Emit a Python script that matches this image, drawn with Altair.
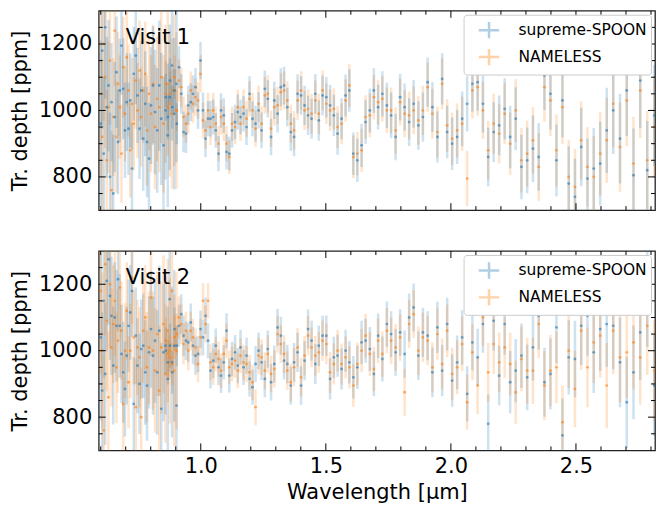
import altair as alt
import pandas as pd

# ---------------- data ----------------
WL_O2 = [0.600, 0.606, 0.612, 0.618, 0.624, 0.631, 0.637, 0.643, 0.650, 0.656,
         0.663, 0.669, 0.676, 0.683, 0.690, 0.697, 0.704, 0.711, 0.718, 0.725,
         0.732, 0.740, 0.747, 0.755, 0.762, 0.770, 0.778, 0.785, 0.793, 0.801,
         0.809, 0.817, 0.826, 0.834, 0.842, 0.851, 0.859, 0.868, 0.876, 0.885,
         0.894, 0.903]

WL_O1 = [0.860, 0.869, 0.877, 0.886, 0.895, 0.904, 0.913, 0.922, 0.931, 0.941,
         0.950, 0.960, 0.969, 0.979, 0.989, 0.999, 1.009, 1.019, 1.029, 1.039,
         1.050, 1.060, 1.071, 1.081, 1.092, 1.103, 1.114, 1.125, 1.137, 1.148,
         1.159, 1.171, 1.183, 1.195, 1.207, 1.219, 1.231, 1.243, 1.256, 1.268,
         1.281, 1.294, 1.307, 1.320, 1.333, 1.346, 1.360, 1.373, 1.387, 1.401,
         1.415, 1.429, 1.443, 1.458, 1.472, 1.487, 1.502, 1.517, 1.532, 1.547,
         1.563, 1.579, 1.594, 1.610, 1.626, 1.643, 1.659, 1.676, 1.692, 1.709,
         1.726, 1.744, 1.761, 1.779, 1.797, 1.815, 1.833, 1.851, 1.870, 1.888,
         1.907, 1.926, 1.946, 1.965, 1.985, 2.005, 2.025, 2.045, 2.065, 2.086,
         2.107, 2.128, 2.149, 2.171, 2.193, 2.215, 2.237, 2.259, 2.282, 2.305,
         2.328, 2.351, 2.374, 2.398, 2.422, 2.446, 2.471, 2.496, 2.521, 2.546,
         2.571, 2.597, 2.623, 2.649, 2.676, 2.703, 2.730, 2.757, 2.785, 2.813]

ERR_O2 = [250, 235, 232, 214, 212, 198, 193, 178, 177, 166,
          168, 157, 156, 148, 152, 143, 147, 139, 142, 138,
          141, 146, 143, 151, 149, 157, 158, 166, 169, 176,
          178, 187, 188, 196, 199, 207, 208, 216, 219, 226,
          228, 236]

ERR_O1 = [70, 67, 66, 64, 65, 62, 63, 60, 61, 58,
          59, 57, 56, 57, 55, 56, 54, 55, 53, 54,
          53, 52, 53, 52, 52, 53, 51, 52, 52, 53,
          52, 53, 54, 53, 53, 54, 55, 54, 55, 56,
          55, 56, 56, 57, 57, 58, 57, 58, 59, 58,
          59, 59, 60, 60, 61, 60, 61, 62, 62, 63,
          62, 63, 64, 64, 65, 65, 66, 66, 67, 67,
          68, 68, 69, 70, 70, 71, 72, 72, 73, 74,
          74, 75, 77, 77, 79, 79, 81, 82, 83, 84,
          86, 86, 88, 90, 90, 92, 94, 95, 97, 99,
          100, 102, 104, 107, 108, 111, 112, 115, 118, 120,
          122, 126, 128, 131, 135, 137, 141, 143, 148, 152]

# Visit 1
SPOON_V1_O2 = [960, 1180, 870, 1250, 1010, 1075, 800, 1025, 750, 980,
               1115, 905, 1060, 1195, 1065, 940, 1025, 945, 1030, 825,
               1110, 1165, 1045, 945, 1060, 915, 1020, 905, 855, 1015,
               1075, 995, 940, 1075, 975, 895, 1000, 925, 1040, 1135,
               990, 1080]
NAMELESS_V1_O2 = [1050, 920, 1200, 1100, 850, 1010, 1150, 760, 980, 1240,
                  920, 1080, 1010, 870, 1130, 990, 1160, 1060, 880, 1020,
                  960, 1090, 1000, 1120, 980, 1060, 1110, 940, 1050, 990,
                  1080, 950, 1035, 1010, 1100, 960, 1050, 1080, 1020, 990,
                  1060, 1000]
SPOON_V1_O1 = [1040, 980, 1090, 1010, 1060, 960, 1130, 1050, 935, 930,
               1015, 1025, 1050, 1070, 1000, 1150, 1000, 915, 975, 975,
               980, 940, 870, 1000, 985, 875, 870, 940, 965, 995,
               980, 990, 950, 1050, 975, 960, 1000, 940, 1065, 1035,
               920, 1030, 990, 1070, 1075, 1010, 935, 920, 1050, 1045,
               1015, 985, 975, 1050, 970, 1045, 1040, 1015, 985, 930,
               975, 1045, 1060, 870, 850, 895, 965, 1000, 1060, 1010,
               1050, 1015, 985, 920, 1040, 1010, 965, 1020, 955, 980,
               1085, 1010, 920, 1095, 935, 900, 920, 975, 1020, 1080,
               1085, 1020, 860, 935, 955, 1005, 920, 975, 830, 850,
               885, 860, 1105, 1050, 850, 1030, 780, 740, 890, 795,
               825, 840, 940, 1000, 915, 1060, 805, 1090, 820, 985]
NAMELESS_V1_O1 = [1080, 1010, 1050, 1060, 1100, 1000, 1090, 1070, 980, 960,
                  990, 1060, 1020, 1040, 1030, 1110, 970, 940, 1000, 950,
                  1000, 960, 900, 980, 960, 900, 860, 960, 950, 1010,
                  960, 1010, 975, 1035, 1000, 945, 1020, 960, 1045, 1050,
                  945, 1010, 1015, 1055, 1060, 1030, 960, 940, 1030, 1060,
                  1000, 1005, 990, 1030, 990, 1060, 1020, 1000, 1005, 950,
                  960, 1030, 1075, 860, 870, 880, 980, 985, 1040, 1025,
                  1035, 1000, 1000, 940, 1025, 990, 985, 1000, 970, 1000,
                  1070, 990, 935, 1080, 955, 915, 940, 960, 795, 1060,
                  1070, 1000, 880, 960, 930, 990, 900, 1000, 850, 870,
                  910, 830, 1070, 1030, 880, 1010, 800, 770, 910, 830,
                  800, 870, 910, 1020, 890, 1030, 840, 1060, 850, 950]

# Visit 2
SPOON_V2_O2 = [1040, 880, 1150, 930, 1210, 1275, 1165, 1105, 955, 1100,
               1075, 1215, 1075, 990, 935, 885, 985, 1075, 1115, 1180,
               840, 1045, 955, 900, 1005, 1015, 935, 895, 995, 1065,
               985, 1030, 935, 1060, 825, 995, 1015, 915, 1155, 965,
               1015, 835]
NAMELESS_V2_O2 = [1180, 1000, 760, 1260, 1090, 860, 1200, 1010, 1080, 1150,
                  950, 1030, 1190, 1060, 840, 1000, 1120, 905, 1000, 1220,
                  1040, 830, 1010, 980, 800, 1060, 1100, 950, 1010, 1160,
                  1000, 940, 1050, 880, 1010, 1080, 930, 1060, 1000, 1180,
                  940, 1000]
SPOON_V2_O1 = [1000, 965, 1015, 935, 1065, 1015, 1075, 1110, 1045, 1030,
               1025, 1085, 1015, 985, 990, 1065, 1040, 1105, 1030, 940,
               970, 1015, 950, 925, 965, 1060, 925, 975, 995, 955,
               1010, 950, 985, 915, 890, 960, 1000, 965, 915, 1005,
               905, 960, 1070, 1045, 970, 960, 895, 965, 995, 895,
               970, 1065, 1030, 960, 1015, 1045, 1045, 915, 980, 985,
               945, 1000, 965, 920, 950, 1025, 1030, 1005, 930, 1045,
               975, 1080, 1050, 995, 1055, 990, 1100, 1130, 985, 1055,
               1045, 935, 1070, 940, 1080, 910, 965, 1040, 870, 1025,
               980, 1080, 780, 1090, 925, 1080, 905, 940, 985, 920,
               1010, 1105, 905, 930, 1070, 745, 980, 975, 1075, 1105,
               995, 1065, 1080, 1075, 965, 845, 935, 1055, 1160, 895]
NAMELESS_V2_O1 = [1030, 990, 980, 960, 1040, 1050, 1100, 1080, 1020, 1060,
                  1000, 1060, 1040, 1010, 960, 1040, 1150, 1080, 1150, 965,
                  950, 990, 975, 940, 990, 1030, 950, 960, 970, 940,
                  985, 965, 960, 935, 905, 830, 985, 980, 940, 990,
                  930, 945, 1050, 1020, 990, 940, 905, 950, 1010, 920,
                  985, 1045, 1010, 985, 995, 1030, 1020, 935, 960, 1000,
                  960, 980, 950, 895, 960, 1000, 1045, 990, 945, 1030,
                  990, 1060, 1030, 1010, 1040, 875, 1080, 1110, 1000, 1040,
                  1030, 950, 1050, 960, 1060, 930, 950, 1020, 845, 995,
                  895, 1100, 935, 1020, 965, 1010, 960, 875, 975, 940,
                  940, 1080, 895, 940, 950, 785, 1000, 885, 1060, 950,
                  1025, 1045, 895, 1060, 980, 995, 1025, 980, 1075, 940]

SERIES = ["supreme-SPOON", "NAMELESS"]
COLORS = ["#1f77b4", "#ff7f0e"]
VISITS = ["Visit 1", "Visit 2"]

Y_MAJOR = [800, 1000, 1200]
Y_MINOR = [750, 850, 900, 950, 1050, 1100, 1150, 1250]
X_MAJOR = [1.0, 1.5, 2.0, 2.5]
X_MINOR = [0.6, 0.7, 0.8, 0.9, 1.1, 1.2, 1.3, 1.4, 1.6, 1.7, 1.8, 1.9,
           2.1, 2.2, 2.3, 2.4, 2.6, 2.7, 2.8]
X_DOMAIN = [0.592, 2.816]
Y_DOMAIN = [700, 1300]

W, H = 558, 200
FONT = "DejaVu Sans"
FS = 21
Y_TITLE = "Tr. depth [ppm]"
X_TITLE = "Wavelength [μm]"


def series_table(o2, o1, name):
    wl = WL_O2 + WL_O1
    d = o2 + o1
    e = ERR_O2 + ERR_O1
    return pd.DataFrame({
        "wl": wl,
        "depth": d,
        "lo": [a - b for a, b in zip(d, e)],
        "hi": [a + b for a, b in zip(d, e)],
        "series": name,
    })


def panel(spoon, nameless, visit, front, show_x):
    xs = alt.Scale(domain=X_DOMAIN, nice=False, zero=False)
    ys = alt.Scale(domain=Y_DOMAIN, nice=False, zero=False)
    tables = {"supreme-SPOON": spoon, "NAMELESS": nameless}
    order = [s for s in SERIES if s != front] + [front]

    if show_x:
        x_axis = alt.Axis(values=X_MAJOR, format=".1f", ticks=False, domain=False,
                          grid=False, labelPadding=5, titlePadding=5,
                          title=X_TITLE)
    else:
        x_axis = alt.Axis(values=X_MAJOR, ticks=False, domain=False, grid=False,
                          labels=False, title=None)
    y_axis = alt.Axis(values=Y_MAJOR, format="d", ticks=False, domain=False,
                      grid=False, labelPadding=7, titlePadding=8, title=Y_TITLE)

    def X(field):
        return alt.X(field, scale=xs, axis=x_axis)

    def Y(field):
        return alt.Y(field, scale=ys, axis=y_axis)

    legend = alt.Legend(title=None, orient="top-right", offset=4,
                        fillColor="white", strokeColor="#cccccc",
                        cornerRadius=3, padding=4, labelFontSize=15.5,
                        labelFont=FONT, labelColor="black",
                        symbolType="M-1,0H1M0,-0.8V0.8", symbolSize=420,
                        symbolOffset=10,
                        symbolStrokeWidth=2.5, symbolOpacity=0.35,
                        labelOffset=18, rowPadding=0)
    color = alt.Color("series:N", scale=alt.Scale(domain=SERIES, range=COLORS),
                      legend=legend)

    layers = []
    for s in order:
        layers.append(
            alt.Chart(tables[s]).mark_rule(strokeWidth=2.5, opacity=0.22, clip=True)
            .encode(x=X("wl:Q"), y=Y("lo:Q"), y2="hi:Q", color=color)
        )
    for s in order:
        c = COLORS[SERIES.index(s)]
        layers.append(
            alt.Chart(tables[s]).mark_circle(size=8, opacity=0.6, clip=True, color=c)
            .encode(x=X("wl:Q"), y=Y("depth:Q"))
        )

    # inward ticks on all four sides
    def yticks(vals, x0, x1):
        return alt.Chart(pd.DataFrame({"v": vals})).mark_rule(
            color="black", strokeWidth=1).encode(
            y=Y("v:Q"), x=alt.value(x0), x2=alt.value(x1))

    def xticks(vals, y0, y1):
        return alt.Chart(pd.DataFrame({"v": vals})).mark_rule(
            color="black", strokeWidth=1).encode(
            x=X("v:Q"), y=alt.value(y0), y2=alt.value(y1))

    layers += [
        yticks(Y_MAJOR, 0, 7), yticks(Y_MINOR, 0, 4),
        yticks(Y_MAJOR, W - 7, W), yticks(Y_MINOR, W - 4, W),
        xticks(X_MAJOR, H - 7, H), xticks(X_MINOR, H - 4, H),
        xticks(X_MAJOR, 0, 7), xticks(X_MINOR, 0, 4),
    ]

    layers.append(
        alt.Chart(pd.DataFrame({"t": [visit]})).mark_text(
            align="left", baseline="middle", fontSize=FS, font=FONT, color="black")
        .encode(x=alt.value(27), y=alt.value(27), text="t:N")
    )

    return alt.layer(*layers).properties(width=W, height=H)


v1 = panel(series_table(SPOON_V1_O2, SPOON_V1_O1, "supreme-SPOON"),
           series_table(NAMELESS_V1_O2, NAMELESS_V1_O1, "NAMELESS"),
           VISITS[0], "supreme-SPOON", False)
v2 = panel(series_table(SPOON_V2_O2, SPOON_V2_O1, "supreme-SPOON"),
           series_table(NAMELESS_V2_O2, NAMELESS_V2_O1, "NAMELESS"),
           VISITS[1], "NAMELESS", True)

chart = (
    alt.vconcat(v1, v2, spacing=37)
    .resolve_scale(color="independent")
    .properties(padding={"left": 0, "top": 0, "right": 0, "bottom": 0},
                background="white")
    .configure_view(stroke="#222222", strokeWidth=1.3)
    .configure_axis(labelFont=FONT, labelFontSize=FS, labelColor="black",
                    titleFont=FONT, titleFontSize=FS, titleFontWeight="normal",
                    titleColor="black")
)

chart.save("out.html", embed_options={"renderer": "svg", "actions": False})
